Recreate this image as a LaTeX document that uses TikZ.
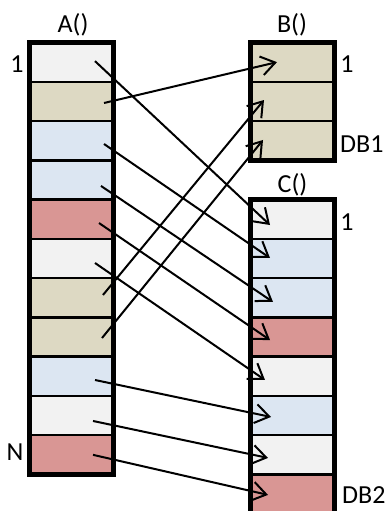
\documentclass[tikz,border=0pt]{standalone}
\usepackage{fontspec}
\setmainfont{Carlito}
\usetikzlibrary{arrows.meta}
\definecolor{cgrey}{HTML}{F2F2F2}
\definecolor{ctan}{HTML}{DDD9C3}
\definecolor{cblue}{HTML}{DCE6F2}
\definecolor{cred}{HTML}{D99694}
\begin{document}
\begin{tikzpicture}[x=1pt,y=-1pt,
  cell/.style={draw, line width=2.5pt, minimum width=84pt, minimum height=39.27pt, inner sep=0pt, outer sep=0pt},
  frame/.style={line width=5pt},
  arr/.style={line width=2pt, -{Straight Barb[length=14pt,width=19pt]}},
  lbl/.style={font=\fontsize{26}{31}\selectfont, inner sep=0pt}]
\useasboundingbox (0,0) rectangle (390,511);
\clip (0,0) rectangle (390,511);
% column A
\foreach \c [count=\i] in {cgrey,ctan,cblue,cblue,cred,cgrey,ctan,ctan,cblue,cgrey,cred}
  \node[cell, fill=\c] (a\i) at (71.5, {42.5+(\i-0.5)*39.27}) {};
\draw[frame] (a1.north west) rectangle (a11.south east);
% column B
\foreach \i in {1,2,3}
  \node[cell, fill=ctan] (b\i) at (292.5, {42.5+(\i-0.5)*39.27}) {};
\draw[frame] (b1.north west) rectangle (b3.south east);
% column C
\foreach \c [count=\i] in {cgrey,cblue,cblue,cred,cgrey,cblue,cgrey,cred}
  \node[cell, fill=\c] (c\i) at (292.5, {42.5+(\i+3.5)*39.27}) {};
\draw[frame] (c1.north west) rectangle (c8.south east);
% labels
\node[lbl, anchor=base] (la) at (73,33) {A()};
\node[lbl, anchor=base] (lb) at (292,33) {B()};
\node[lbl, anchor=base] (lc) at (292.5,192) {C()};
\node[lbl, anchor=base] (l1a) at (17,72) {1};
\node[lbl, anchor=base] (lN) at (15,460) {N};
\node[lbl, anchor=base] (l1b) at (347,72) {1};
\node[lbl, anchor=base west] (ldb1) at (340,152) {DB1};
\node[lbl, anchor=base] (l1c) at (347,230) {1};
\node[lbl, anchor=base west] (ldb2) at (342,503) {DB2};
% arrows
\draw[arr] ([shift={(23.5,-1)}]a1.center) -- ([shift={(-22.5,5.8)}]c1.center);
\draw[arr] ([shift={(32.5,1.6)}]a2.center) -- ([shift={(-15.5,0)}]b1.center);
\draw[arr] ([shift={(32.5,3.3)}]a3.center) -- ([shift={(-22.5,-0.5)}]c2.center);
\draw[arr] ([shift={(29.5,6)}]a4.center) -- ([shift={(-19.5,4.2)}]c3.center);
\draw[arr] ([shift={(27.5,3.8)}]a5.center) -- ([shift={(-22.5,3)}]c4.center);
\draw[arr] ([shift={(23.5,4.5)}]a6.center) -- ([shift={(-27.5,3.7)}]c5.center);
\draw[arr] ([shift={(31.5,-2.8)}]a7.center) -- ([shift={(-28.5,-1.4)}]b2.center);
\draw[arr] ([shift={(30.5,1)}]a8.center) -- ([shift={(-29.5,-0.7)}]b3.center);
\draw[arr] ([shift={(23.5,3.7)}]a9.center) -- ([shift={(-21.5,1.4)}]c6.center);
\draw[arr] ([shift={(21.5,5.4)}]a10.center) -- ([shift={(-24.5,3.1)}]c7.center);
\draw[arr] ([shift={(21.5,0)}]a11.center) -- ([shift={(-24.5,0.8)}]c8.center);
\end{tikzpicture}
\end{document}
